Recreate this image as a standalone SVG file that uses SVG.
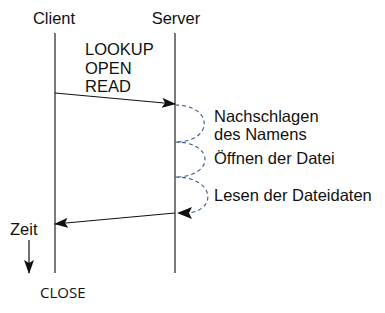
<svg xmlns="http://www.w3.org/2000/svg" width="385" height="313" viewBox="0 0 385 313">
<defs>
<style>
.lbl{font-family:"Liberation Sans",Arial,sans-serif;font-size:16.5px;fill:#111}
.life{stroke:#333;stroke-width:1.3;fill:none}
.msg{stroke:#111;stroke-width:1.2;fill:none}
.loop{stroke:#3a5a8c;stroke-width:1.1;fill:none;stroke-dasharray:4 3}
</style>
<marker id="ah" markerWidth="14" markerHeight="10" refX="13" refY="5" orient="auto" markerUnits="userSpaceOnUse">
<path d="M0,0 L14,5 L0,10 L3,5 Z" fill="#111"/>
</marker>
</defs>
<rect width="385" height="313" fill="#fff"/>
<g id="client">
<text class="lbl" x="54" y="24" text-anchor="middle">Client</text>
<line class="life" x1="55" y1="33" x2="55" y2="273"/>
</g>
<g id="server">
<text class="lbl" x="176" y="24" text-anchor="middle">Server</text>
<line class="life" x1="175" y1="33" x2="175" y2="273"/>
</g>
<g id="request-label">
<text class="lbl" x="85" y="55">LOOKUP</text>
<text class="lbl" x="85" y="74">OPEN</text>
<text class="lbl" x="85" y="92">READ</text>
</g>
<g id="step1">
<text class="lbl" x="214" y="121.5">Nachschlagen</text>
<text class="lbl" x="214" y="140">des Namens</text>
</g>
<g id="step2">
<text class="lbl" x="214" y="164">Öffnen der Datei</text>
</g>
<g id="step3">
<text class="lbl" x="214" y="201">Lesen der Dateidaten</text>
</g>
<g id="time">
<text class="lbl" x="10" y="235">Zeit</text>
<line class="msg" x1="29" y1="240" x2="29" y2="273" marker-end="url(#ah)"/>
</g>
<g id="close">
<text x="40" y="298" style="font-family:'Open Sans','Noto Sans',sans-serif;font-size:15px;fill:#111">CLOSE</text>
</g>
<g id="connectors">
<line class="msg" x1="55" y1="93" x2="175" y2="104" marker-end="url(#ah)"/>
<path class="loop" d="M175,105 C214,105 214,142 175,142"/>
<path class="loop" d="M175,142 C215,142 215,177 175,177"/>
<path class="loop" d="M175,177 C217,177 217,213 185,213"/>
<path d="M177,213 L192,207 L189,213 L192,219 Z" fill="#111"/>
<line class="msg" x1="175" y1="213" x2="55" y2="224" marker-end="url(#ah)"/>
</g>
</svg>
